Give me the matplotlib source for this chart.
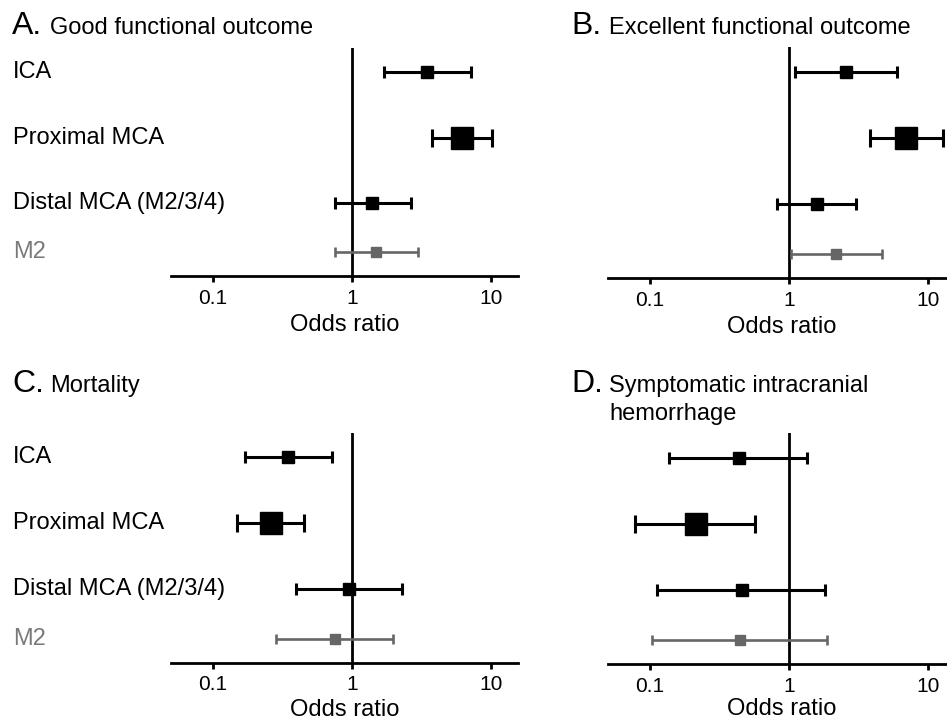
import matplotlib
matplotlib.use("Agg")
import matplotlib.pyplot as plt

plt.rcParams["font.family"] = ["Liberation Sans", "DejaVu Sans"]

# rows, top to bottom
rows = ["ICA", "Proximal MCA", "Distal MCA (M2/3/4)", "M2"]

# odds ratios with 95% CI
good_or = [3.47, 6.2, 1.39, 1.49]
good_lo = [1.70, 3.76, 0.75, 0.75]
good_hi = [7.18, 10.2, 2.67, 3.0]

exc_or = [2.56, 6.9, 1.58, 2.17]
exc_lo = [1.10, 3.8, 0.82, 1.03]
exc_hi = [5.94, 12.7, 3.03, 4.64]

mort_or = [0.348, 0.263, 0.95, 0.755]
mort_lo = [0.171, 0.150, 0.397, 0.285]
mort_hi = [0.72, 0.453, 2.29, 1.97]

sich_or = [0.435, 0.214, 0.457, 0.442]
sich_lo = [0.138, 0.0785, 0.113, 0.104]
sich_hi = [1.35, 0.569, 1.82, 1.88]

xticks = [0.1, 1, 10]
xticklabels = ["0.1", "1", "10"]

# layout / style per row
ypos = [4, 3, 2, 1.25]
msize = [8.6, 16.5, 8.6, 7.5]
caps = [4.3, 6.5, 4.0, 3.6]
colors = ["black", "black", "black", "#666666"]
lwidths = [2.2, 2.2, 2.2, 1.9]
label_colors = ["black", "black", "black", "#7a7a7a"]

W, H = 947, 722
fig = plt.figure(figsize=(W / 100, H / 100), dpi=100)


def px_axes(left, right, top, bottom):
    return fig.add_axes([left / W, 1 - bottom / H, (right - left) / W, (bottom - top) / H])


def forest(ax, est, lo, hi, show_labels, xlabelpad=5):
    for i in range(len(rows)):
        ax.errorbar([est[i]], [ypos[i]],
                    xerr=[[est[i] - lo[i]], [hi[i] - est[i]]],
                    fmt="s", color=colors[i], ecolor=colors[i],
                    markersize=msize[i], elinewidth=lwidths[i],
                    capsize=caps[i], capthick=lwidths[i], zorder=3,
                    clip_on=False)
    ax.axvline(1, color="black", lw=2.0, zorder=2)
    ax.set_xscale("log")
    ax.set_xlim(0.05, 15.6)
    ax.set_ylim(0.885, 4.37)
    ax.set_xticks(xticks)
    ax.set_xticklabels(xticklabels)
    ax.xaxis.set_minor_locator(matplotlib.ticker.NullLocator())
    ax.set_yticks([])
    for s in ("left", "right", "top"):
        ax.spines[s].set_visible(False)
    ax.spines["bottom"].set_linewidth(2.0)
    ax.tick_params(axis="x", direction="out", length=4, width=2,
                   labelsize=15, pad=5)
    ax.set_xlabel("Odds ratio", fontsize=17, labelpad=xlabelpad)
    if show_labels:
        for i, r in enumerate(rows):
            ax.annotate(r, xy=(13 / W, ypos[i]), xycoords=("figure fraction", "data"),
                        ha="left", va="center", fontsize=17, color=label_colors[i])


axA = px_axes(171, 518, 48, 276)
forest(axA, good_or, good_lo, good_hi, True)
axB = px_axes(608, 955, 47, 278)
forest(axB, exc_or, exc_lo, exc_hi, False)
axC = px_axes(171, 518, 433, 663)
forest(axC, mort_or, mort_lo, mort_hi, True, xlabelpad=3)
axD = px_axes(608, 955, 433, 664)
forest(axD, sich_or, sich_lo, sich_hi, False, xlabelpad=2)


def panel_title(x, y, letter, lines):
    fig.text(x / W, 1 - y / H, letter, fontsize=23, ha="left", va="baseline")
    for k, line in enumerate(lines):
        fig.text((x + 38) / W, 1 - (y + 28 * k) / H, line, fontsize=17,
                 ha="left", va="baseline")


panel_title(12, 34, "A.", ["Good functional outcome"])
panel_title(571, 34, "B.", ["Excellent functional outcome"])
panel_title(12, 392, "C.", ["Mortality"])
panel_title(571, 392, "D.", ["Symptomatic intracranial", "hemorrhage"])

fig.savefig("out.png", dpi=100)
